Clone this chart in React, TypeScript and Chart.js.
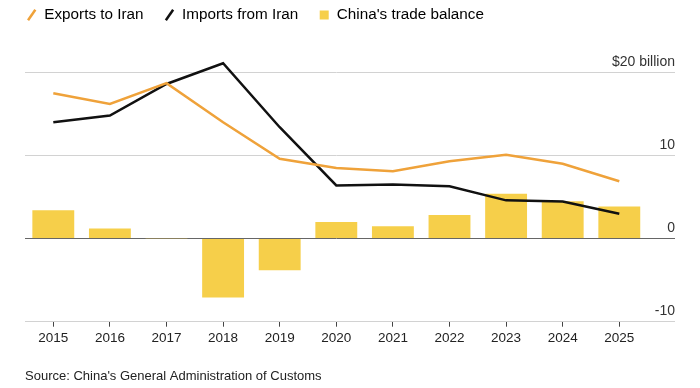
import React, { useEffect, useRef } from 'react';
import { Chart, registerables } from 'chart.js';

Chart.register(...registerables);

const years = ['2015', '2016', '2017', '2018', '2019', '2020', '2021', '2022', '2023', '2024', '2025'];
const exportsToIran = [17.5, 16.2, 18.7, 14.0, 9.6, 8.5, 8.1, 9.3, 10.1, 9.0, 6.9];
const importsFromIran = [14.0, 14.8, 18.6, 21.1, 13.4, 6.4, 6.5, 6.3, 4.6, 4.45, 3.0];
const tradeBalance = [3.4, 1.2, 0.05, -7.1, -3.8, 2.0, 1.5, 2.85, 5.4, 4.5, 3.85];
const yTickValues = [-10, 0, 10, 20];
const yTickLabels = ['-10', '0', '10', '$20 billion'];
const legendLabels = ['Exports to Iran', 'Imports from Iran', "China's trade balance"];
const sourceText = "Source: China's General Administration of Customs";

const FONT = "'Liberation Sans', Arial, Helvetica, sans-serif";
const ORANGE = '#EFA23A';
const BLACK = '#111111';
const YELLOW = '#F6CF4A';

const yLabelPlugin = {
  id: 'yLabelsAbove',
  afterDraw(chart: any) {
    const s = chart.scales.y;
    const ctx = chart.ctx;
    ctx.save();
    ctx.font = `14px ${FONT}`;
    ctx.fillStyle = '#333';
    ctx.textAlign = 'right';
    ctx.textBaseline = 'alphabetic';
    s.ticks.forEach((t: any) => {
      const idx = yTickValues.indexOf(t.value);
      if (idx < 0) return;
      const y = s.getPixelForValue(t.value);
      ctx.fillText(yTickLabels[idx], s.right, y - 6.5);
    });
    ctx.restore();
  },
};

export default function App() {
  const ref = useRef<HTMLCanvasElement | null>(null);

  useEffect(() => {
    if (!ref.current) return;
    const chart = new Chart(ref.current, {
      type: 'bar',
      data: {
        labels: years,
        datasets: [
          {
            type: 'line',
            label: legendLabels[0],
            data: exportsToIran,
            borderColor: ORANGE,
            backgroundColor: ORANGE,
            borderWidth: 2.5,
            pointRadius: 0,
            tension: 0,
            fill: false,
            order: 1,
            yAxisID: 'y',
          } as any,
          {
            type: 'line',
            label: legendLabels[1],
            data: importsFromIran,
            borderColor: BLACK,
            backgroundColor: BLACK,
            borderWidth: 2.5,
            pointRadius: 0,
            tension: 0,
            fill: false,
            order: 2,
            yAxisID: 'y',
          } as any,
          {
            type: 'bar',
            label: legendLabels[2],
            data: tradeBalance,
            backgroundColor: YELLOW,
            borderWidth: 0,
            barPercentage: 0.74,
            categoryPercentage: 1,
            order: 3,
            yAxisID: 'y',
          } as any,
        ],
      },
      options: {
        responsive: false,
        animation: false,
        devicePixelRatio: 1,
        layout: { padding: { top: -13.6, left: 5.7, right: 25, bottom: 0 } },
        plugins: {
          tooltip: { enabled: false },
          title: { display: false },
          legend: {
            display: true,
            position: 'top',
            align: 'start',
            labels: {
              usePointStyle: true,
              boxWidth: 10,
              boxHeight: 9,
              padding: 21,
              color: '#222',
              font: { family: FONT, size: 15.25 },
              generateLabels: () => [
                {
                  text: legendLabels[0],
                  fillStyle: ORANGE,
                  strokeStyle: ORANGE,
                  lineWidth: 2.5,
                  pointStyle: 'line',
                  rotation: -55,
                  hidden: false,
                  datasetIndex: 0,
                } as any,
                {
                  text: legendLabels[1],
                  fillStyle: BLACK,
                  strokeStyle: BLACK,
                  lineWidth: 2.5,
                  pointStyle: 'line',
                  rotation: -55,
                  hidden: false,
                  datasetIndex: 1,
                } as any,
                {
                  text: legendLabels[2],
                  fillStyle: YELLOW,
                  strokeStyle: YELLOW,
                  lineWidth: 0,
                  pointStyle: 'rect',
                  rotation: 0,
                  hidden: false,
                  datasetIndex: 2,
                } as any,
              ],
            },
          },
          subtitle: {
            display: true,
            text: sourceText,
            position: 'bottom',
            align: 'start',
            fullSize: false,
            color: '#222',
            font: { family: FONT, size: 13, weight: 'normal' },
            padding: { top: 16.5, bottom: 4.2 },
          },
        },
        scales: {
          x: {
            type: 'category',
            offset: true,
            grid: {
              display: true,
              drawOnChartArea: false,
              drawTicks: true,
              tickLength: 5,
              offset: false,
              color: '#444',
              lineWidth: 1,
            },
            border: { display: false },
            ticks: {
              color: '#222',
              font: { family: FONT, size: 13.5 },
              padding: 3,
              maxRotation: 0,
              autoSkip: false,
            },
            afterFit: (s: any) => {
              s.height = 30;
            },
          },
          y: {
            type: 'linear',
            position: 'right',
            min: -10,
            max: 24.78,
            afterBuildTicks: (s: any) => {
              s.ticks = yTickValues.map((v) => ({ value: v }));
            },
            grid: {
              color: (c: any) => (c.tick && c.tick.value === 0 ? '#666' : '#d2d2d2'),
              lineWidth: 1,
              drawTicks: true,
              tickLength: 27.4,
            },
            border: { display: false },
            ticks: { display: false },
            afterFit: (s: any) => {
              s.width = 27.4;
            },
          },
          pad: {
            type: 'linear',
            position: 'left',
            display: true,
            grid: { display: false },
            border: { display: false },
            ticks: { display: false },
            afterFit: (s: any) => {
              s.width = 19.3;
            },
          },
        },
      } as any,
      plugins: [yLabelPlugin],
    });
    return () => chart.destroy();
  }, []);

  return (
    <div style={{ position: 'absolute', left: 0, top: 0, width: 700, height: 388, background: '#fff' }}>
      <canvas ref={ref} width={700} height={388} style={{ display: 'block' }} />
    </div>
  );
}
